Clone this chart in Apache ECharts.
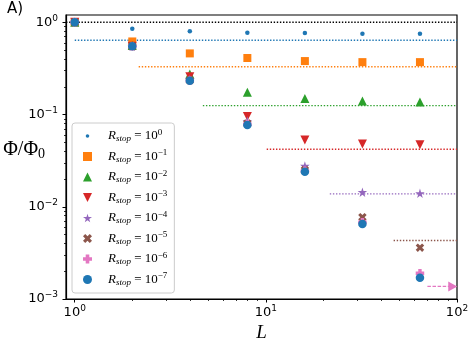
<!DOCTYPE html>
<html>
<head>
<meta charset="utf-8">
<script src="https://cdn.jsdelivr.net/npm/echarts@6/dist/echarts.min.js"></script>
<style>
  html, body { margin: 0; padding: 0; background: #fff; }
  #main { width: 470px; height: 344px; }
</style>
</head>
<body>
<div id="main"></div>
<script>
// system sizes L and measured Φ/Φ0 for each R_stop
const sizes = [1, 2, 4, 8, 16, 32, 64];
const exponents = ['0', '\u22121', '\u22122', '\u22123', '\u22124', '\u22125', '\u22126', '\u22127'];
const phi_r0 = [1, 0.85, 0.80, 0.77, 0.765, 0.75, 0.75];
const phi_r1 = [1, 0.62, 0.46, 0.41, 0.38, 0.37, 0.37];
const phi_r2 = [1, 0.56, 0.275, 0.174, 0.149, 0.14, 0.137];
const phi_r3 = [1, 0.55, 0.257, 0.095, 0.053, 0.048, 0.047];
const phi_r4 = [1, 0.55, 0.24, 0.085, 0.0277, 0.0144, 0.014];
const phi_r5 = [1, 0.55, 0.235, 0.08, 0.025, 0.0077, 0.0036];
const phi_r6 = [1, 0.55, 0.233, 0.079, 0.0245, 0.0068, 0.0019];
const phi_r7 = [1, 0.55, 0.232, 0.077, 0.024, 0.0065, 0.0017];
const phiAll = [phi_r0, phi_r1, phi_r2, phi_r3, phi_r4, phi_r5, phi_r6, phi_r7];

// dotted asymptote levels (start L, level), last one is the dashed arrow
const limitStart = [0.9, 1, 2.16, 4.68, 10.1, 21.6, 46.6];
const limitLevel = [1, 0.638, 0.33, 0.125, 0.042, 0.0138, 0.0043];
const arrowStart = 70, arrowEnd = 95, arrowLevel = 0.00137;

const xMajor = [1, 10, 100];
const xMinor = [2, 3, 4, 5, 6, 7, 8, 9, 20, 30, 40, 50, 60, 70, 80, 90];
const yMajor = [0.001, 0.01, 0.1, 1];
const yMinor = [0.002, 0.003, 0.004, 0.005, 0.006, 0.007, 0.008, 0.009,
  0.02, 0.03, 0.04, 0.05, 0.06, 0.07, 0.08, 0.09,
  0.2, 0.3, 0.4, 0.5, 0.6, 0.7, 0.8, 0.9];

const colors = ['#1f77b4', '#ff7f0e', '#2ca02c', '#d62728', '#9467bd', '#8c564b', '#e377c2', '#1f77b4'];
const lineColors = ['#000000', '#1f77b4', '#ff7f0e', '#2ca02c', '#d62728', '#9467bd', '#8c564b'];

const STAR = 'path://M50,0 L61,35 L98,35 L68,57 L79,91 L50,70 L21,91 L32,57 L2,35 L39,35 Z';
const XFILL = 'path://M0,25 L25,0 L50,25 L75,0 L100,25 L75,50 L100,75 L75,100 L50,75 L25,100 L0,75 L25,50 Z';
const PLUS = 'path://M30,0 H70 V30 H100 V70 H70 V100 H30 V70 H0 V30 H30 Z';
const symbols = ['circle', 'rect', 'triangle', 'triangle', STAR, XFILL, PLUS, 'circle'];
const symSizes = [4.5, 8, 9, 9, 9.5, 8.5, 8.5, 8.5];
const symRot = [0, 0, 0, 180, 0, 0, 0, 0];
// legend icons: the small dot keeps an empty margin so it stays small
const DOT_ICON = 'path://M0,0L0.01,0M10,10L10.01,10M7,5A2,2,0,1,1,6.99,4.8Z';
const DOWN_TRI = 'path://M0,0 L100,0 L50,100 Z';
const legendIcons = [DOT_ICON, 'rect', 'triangle', DOWN_TRI, STAR, XFILL, PLUS, 'circle'];

const names = exponents.map(e => 'R_stop=10^' + e);

const supLabel = v => {
  const e = Math.round(Math.log10(v));
  if (Math.abs(Math.log10(v) - e) > 1e-6) return '';
  return '{b|10}{s|' + (e < 0 ? '\u2212' + (-e) : e) + '}';
};
const tickRich = {
  b: { fontFamily: 'DejaVu Sans', fontSize: 13, color: '#000' },
  s: { fontFamily: 'DejaVu Sans', fontSize: 9, color: '#000', padding: [0, 0, 8, 0] }
};

const series = [];
limitLevel.forEach((lv, i) => {
  series.push({
    type: 'line', z: 1, silent: true, symbol: 'none',
    data: [[limitStart[i], lv], [100, lv]],
    lineStyle: { color: lineColors[i], width: 1.4, type: [1.4, 1.7] }
  });
});
series.push({
  type: 'line', z: 1, silent: true, symbol: 'none',
  data: [[arrowStart, arrowLevel], [arrowEnd, arrowLevel]],
  lineStyle: { color: '#e377c2', width: 1.4, type: [3.5, 1.6] },
  markLine: {
    silent: true, animation: false,
    symbol: ['none', 'triangle'], symbolSize: [10, 9],
    label: { show: false },
    lineStyle: { color: '#e377c2', width: 0, type: 'solid' },
    data: [[{ coord: [arrowEnd - 1, arrowLevel] }, { coord: [arrowEnd, arrowLevel] }]]
  }
});
phiAll.forEach((vals, i) => {
  series.push({
    name: names[i], type: 'scatter', z: 2,
    symbol: symbols[i], symbolSize: symSizes[i], symbolRotate: symRot[i],
    itemStyle: { color: colors[i], opacity: 1 },
    data: sizes.map((L, k) => [L, vals[k]])
  });
});

const chart = echarts.init(document.getElementById('main'), null, { renderer: 'canvas' });
chart.setOption({
  animation: false,
  graphic: [{
    type: 'text', left: 7, top: 2,
    style: { text: 'A)', fontFamily: 'DejaVu Sans', fontSize: 15, fill: '#000' }
  }],
  grid: {
    left: 66, right: 13, top: 15, bottom: 45,
    show: true, borderColor: '#000', borderWidth: 1.2,
    outerBoundsMode: 'none'
  },
  legend: {
    orient: 'vertical', left: 72, top: 123,
    padding: [5, 7, 6, 11], itemGap: 5,
    itemWidth: 9, itemHeight: 9,
    selectedMode: false,
    backgroundColor: 'rgba(255,255,255,0.8)',
    borderColor: '#cccccc', borderWidth: 1, borderRadius: 3,
    data: names.map((n, i) => ({ name: n, icon: legendIcons[i] })),
    formatter: n => {
      const e = n.split('^')[1];
      return '{g|}{r|R}{s|stop}{t| = 10}{e|' + e + '}';
    },
    textStyle: {
      color: '#000',
      rich: {
        g: { width: 11 },
        r: { fontFamily: 'Liberation Serif', fontStyle: 'italic', fontSize: 13, lineHeight: 14 },
        s: { fontFamily: 'Liberation Serif', fontStyle: 'italic', fontSize: 9, padding: [6, 0, 0, 0] },
        t: { fontFamily: 'Liberation Serif', fontSize: 13 },
        e: { fontFamily: 'Liberation Serif', fontSize: 9, padding: [0, 0, 7, 0] }
      }
    }
  },
  xAxis: [{
    type: 'log', min: 0.9, max: 100, logBase: 10,
    name: 'L', nameLocation: 'middle', nameGap: 24, nameMoveOverlap: false,
    nameTextStyle: { fontFamily: 'Liberation Serif', fontStyle: 'italic', fontSize: 19, color: '#000' },
    axisLine: { lineStyle: { color: '#000', width: 1.2 } },
    axisTick: { customValues: xMajor, length: 3.5, lineStyle: { color: '#000', width: 1 } },
    axisLabel: { customValues: xMajor, formatter: supLabel, rich: tickRich, margin: 5 },
    splitLine: { show: false }
  }, {
    type: 'log', min: 0.9, max: 100, logBase: 10, position: 'bottom',
    axisLine: { show: false },
    axisTick: { customValues: xMinor, length: 2, lineStyle: { color: '#000', width: 0.8 } },
    axisLabel: { show: false },
    splitLine: { show: false }
  }],
  yAxis: [{
    type: 'log', min: 0.001, max: 1.2, logBase: 10,
    name: '{a|\u03a6/\u03a6}{b|0}', nameLocation: 'middle', nameGap: 21, nameRotate: 0,
    nameMoveOverlap: false,
    nameTextStyle: {
      color: '#000', padding: [0, 0, 14, 0],
      rich: {
        a: { fontFamily: 'Liberation Serif', fontSize: 20, color: '#000' },
        b: { fontFamily: 'Liberation Serif', fontSize: 14, color: '#000', padding: [8, 0, 0, 0] }
      }
    },
    axisLine: { lineStyle: { color: '#000', width: 1.2 } },
    axisTick: { customValues: yMajor, length: 3.5, lineStyle: { color: '#000', width: 1 } },
    axisLabel: { customValues: yMajor, formatter: supLabel, rich: tickRich, margin: 8 },
    splitLine: { show: false }
  }, {
    type: 'log', min: 0.001, max: 1.2, logBase: 10, position: 'left',
    axisLine: { show: false },
    axisTick: { customValues: yMinor, length: 2, lineStyle: { color: '#000', width: 0.8 } },
    axisLabel: { show: false },
    splitLine: { show: false }
  }],
  series: series
});
</script>
</body>
</html>
